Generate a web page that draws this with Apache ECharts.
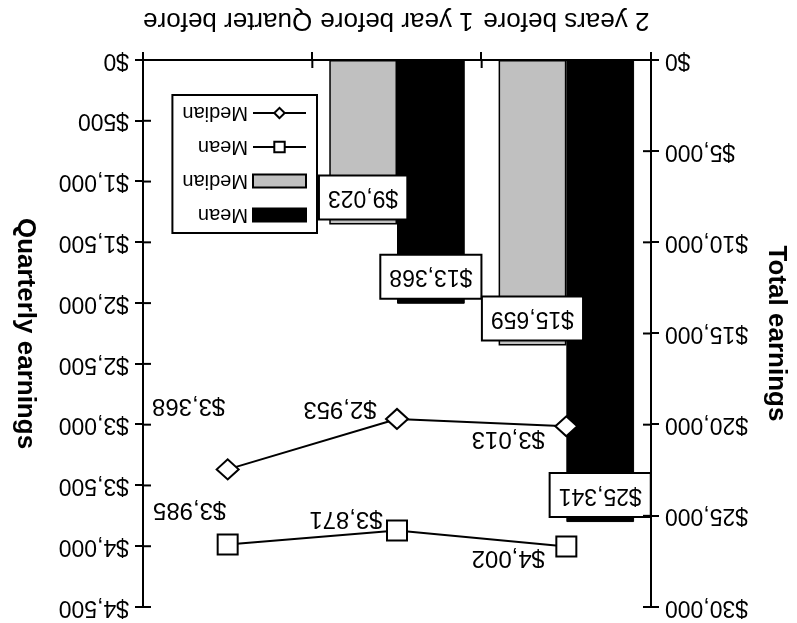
<!DOCTYPE html>
<html>
<head>
<meta charset="utf-8">
<script src="https://cdn.jsdelivr.net/npm/echarts@6/dist/echarts.min.js"></script>
<style>
  html, body { margin: 0; padding: 0; background: #fff; }
  #chart { width: 797px; height: 623px; transform: rotate(180deg); transform-origin: 50% 50%; }
</style>
</head>
<body>
<div id="chart"></div>
<script>
const categories = ['2 years before', '1 year before', 'Quarter before'];
const totalMean = [25341, 13368, null];
const totalMedian = [15659, 9023, null];
const quarterlyMean = [4002, 3871, 3985];
const quarterlyMedian = [3013, 2953, 3368];
const totalTickLabels = ['$0', '$5,000', '$10,000', '$15,000', '$20,000', '$25,000', '$30,000'];
const quarterlyTickLabels = ['$0', '$500', '$1,000', '$1,500', '$2,000', '$2,500', '$3,000', '$3,500', '$4,000', '$4,500'];

const meanLabelOffsets = [[58, -11], [51, 12], [38, 35]];
const medianLabelOffsets = [[58, -12], [57, 10], [39, 64]];

const FONT = "'Liberation Sans', Arial, sans-serif";
const fmt = v => '$' + Number(v).toLocaleString('en-US');

const TOTAL_MAX = 30000, TOTAL_STEP = 5000;
const Q_MAX = 4500, Q_STEP = 500;

const chart = echarts.init(document.getElementById('chart'), null, { renderer: 'canvas' });

const axisLineStyle = { show: true, lineStyle: { color: '#000', width: 2 } };
const tickOut = { show: true, length: 8, lineStyle: { color: '#000', width: 2 } };

const option = {
  backgroundColor: '#fff',
  animation: false,
  textStyle: { fontFamily: FONT, color: '#000' },
  grid: { left: 145, right: 143, top: 16, bottom: 60 },
  legend: {
    orient: 'vertical',
    left: 480,
    top: 390,
    padding: [8, 10, 8, 10],
    itemWidth: 53,
    itemHeight: 13,
    itemGap: 14,
    borderColor: '#000',
    borderWidth: 2,
    backgroundColor: '#fff',
    textStyle: { fontFamily: FONT, fontSize: 20, color: '#000' },
    formatter: name => name.trim(),
    data: [
      { name: 'Mean', icon: 'rect' },
      { name: 'Median', icon: 'rect' },
      'Mean ',
      'Median '
    ]
  },
  xAxis: {
    type: 'category',
    data: categories,
    position: 'bottom',
    axisLine: axisLineStyle,
    axisTick: tickOut,
    axisLabel: { fontFamily: FONT, fontSize: 26, color: '#000', margin: 27, interval: 0, hideOverlap: false },
    splitLine: { show: false }
  },
  yAxis: [
    {
      type: 'value',
      position: 'left',
      min: 0, max: TOTAL_MAX, interval: TOTAL_STEP,
      name: 'Total earnings',
      nameLocation: 'middle',
      nameRotate: 90,
      nameGap: 112,
      nameTextStyle: { fontFamily: FONT, fontSize: 26, fontWeight: 'bold', color: '#000' },
      axisLine: axisLineStyle,
      axisTick: tickOut,
      axisLabel: { fontFamily: FONT, fontSize: 23, color: '#000', margin: 14,
        formatter: (v, i) => totalTickLabels[i] },
      splitLine: { show: false }
    },
    {
      type: 'value',
      position: 'right',
      min: 0, max: Q_MAX, interval: Q_STEP,
      name: 'Quarterly earnings',
      nameLocation: 'middle',
      nameRotate: 90,
      nameGap: 105,
      nameTextStyle: { fontFamily: FONT, fontSize: 26, fontWeight: 'bold', color: '#000' },
      axisLine: axisLineStyle,
      axisTick: tickOut,
      axisLabel: { fontFamily: FONT, fontSize: 23, color: '#000', margin: 14,
        formatter: (v, i) => quarterlyTickLabels[i] },
      splitLine: { show: false }
    }
  ],
  series: [
    {
      name: 'Mean',
      type: 'bar',
      yAxisIndex: 0,
      data: totalMean,
      barGap: '0%',
      barCategoryGap: '20%',
      itemStyle: { color: '#000', borderColor: '#000', borderWidth: 1 },
      label: {
        show: true, position: 'insideTop', distance: 6,
        formatter: p => fmt(p.value),
        fontFamily: FONT, fontSize: 23, color: '#000', lineHeight: 26,
        backgroundColor: '#fff', borderColor: '#000', borderWidth: 2, padding: [8, 8]
      },
      z: 2
    },
    {
      name: 'Median',
      type: 'bar',
      yAxisIndex: 0,
      data: totalMedian,
      barGap: '0%',
      barCategoryGap: '20%',
      itemStyle: { color: '#C0C0C0', borderColor: '#000', borderWidth: 1.5 },
      label: {
        show: true, position: 'insideTop', distance: 6,
        formatter: p => fmt(p.value),
        fontFamily: FONT, fontSize: 23, color: '#000', lineHeight: 26,
        backgroundColor: '#fff', borderColor: '#000', borderWidth: 2, padding: [8, 8]
      },
      z: 2
    },
    {
      name: 'Mean ',
      type: 'line',
      yAxisIndex: 1,
      data: quarterlyMean.map((v, i) => ({ value: v, label: { offset: meanLabelOffsets[i] } })),
      symbol: 'rect',
      symbolSize: 20,
      lineStyle: { color: '#000', width: 2 },
      itemStyle: { color: '#fff', borderColor: '#000', borderWidth: 2 },
      label: {
        show: true, position: 'inside',
        formatter: p => fmt(p.value),
        fontFamily: FONT, fontSize: 24, color: '#000'
      },
      z: 5
    },
    {
      name: 'Median ',
      type: 'line',
      yAxisIndex: 1,
      data: quarterlyMedian.map((v, i) => ({ value: v, label: { offset: medianLabelOffsets[i] } })),
      symbol: 'diamond',
      symbolSize: [22, 20],
      lineStyle: { color: '#000', width: 2 },
      itemStyle: { color: '#fff', borderColor: '#000', borderWidth: 2 },
      label: {
        show: true, position: 'inside',
        formatter: p => fmt(p.value),
        fontFamily: FONT, fontSize: 24, color: '#000'
      },
      z: 5
    }
  ]
};

chart.setOption(option);

// Inner halves of the crossing tick marks, placed through the chart's own scales.
function addInnerTicks() {
  const TICK = 8;
  const els = [];
  const st = { stroke: '#000', lineWidth: 2 };
  const centers = categories.map((c, i) => chart.convertToPixel({ xAxisIndex: 0 }, i));
  const band = centers[1] - centers[0];
  const leftX = centers[0] - band / 2;
  const rightX = centers[centers.length - 1] + band / 2;
  const baseY = chart.convertToPixel({ yAxisIndex: 0 }, 0);
  for (let v = 0; v <= TOTAL_MAX; v += TOTAL_STEP) {
    const y = chart.convertToPixel({ yAxisIndex: 0 }, v);
    els.push({ type: 'line', shape: { x1: leftX, y1: y, x2: leftX + TICK, y2: y }, style: st, silent: true, z: 100 });
  }
  for (let v = 0; v <= Q_MAX; v += Q_STEP) {
    const y = chart.convertToPixel({ yAxisIndex: 1 }, v);
    els.push({ type: 'line', shape: { x1: rightX, y1: y, x2: rightX - TICK, y2: y }, style: st, silent: true, z: 100 });
  }
  for (let i = 0; i <= categories.length; i++) {
    const x = leftX + band * i;
    els.push({ type: 'line', shape: { x1: x, y1: baseY, x2: x, y2: baseY - TICK }, style: st, silent: true, z: 100 });
  }
  chart.setOption({ graphic: els });
}
addInnerTicks();
</script>
</body>
</html>
